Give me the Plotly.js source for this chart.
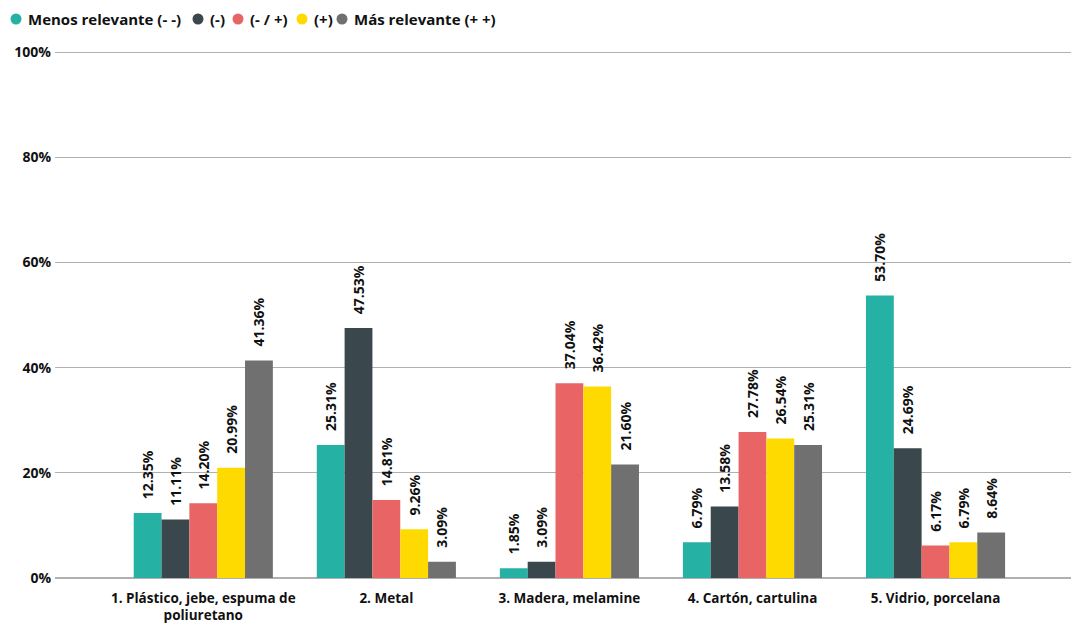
<!DOCTYPE html>
<html><head><meta charset="utf-8">
<script src="https://cdn.plot.ly/plotly-3.0.1.min.js"></script>
<style>html,body{margin:0;padding:0;background:#fff}#chart{width:1071px;height:624px}</style>
</head><body><div id="chart"></div>
<script>
const categories = ["1. Plástico, jebe, espuma de<br>poliuretano", "2. Metal", "3. Madera, melamine", "4. Cartón, cartulina", "5. Vidrio, porcelana"];
const seriesNames = ["Menos relevante (- -)", "(-)", "(- / +)", "(+)", "Más relevante (+ +)"];
const menosRelevante = [12.35, 25.31, 1.85, 6.79, 53.70];
const menos = [11.11, 47.53, 3.09, 13.58, 24.69];
const neutro = [14.20, 14.81, 37.04, 27.78, 6.17];
const mas = [20.99, 9.26, 36.42, 26.54, 6.79];
const masRelevante = [41.36, 3.09, 21.60, 25.31, 8.64];
const yTickVals = [0, 20, 40, 60, 80, 100];
const yTickText = ["0%", "20%", "40%", "60%", "80%", "100%"];
const colors = ["#26B1A5", "#3A474C", "#E86465", "#FFDA00", "#707070"];
const allSeries = [menosRelevante, menos, neutro, mas, masRelevante];
const FONT = "Open Sans, sans-serif";
const PAD = "\u00a0\u00a0\u00a0";

const traces = [];
allSeries.forEach((vals, i) => {
  traces.push({
    type: 'bar', x: categories, y: vals, name: seriesNames[i],
    marker: {color: colors[i]}, showlegend: false,
    text: vals.map(v => PAD + v.toFixed(2) + '%'), textposition: 'outside',
    textangle: -90, cliponaxis: false, constraintext: 'none',
    textfont: {family: FONT, size: 14, color: '#111', weight: 700},
    hoverinfo: 'none'
  });
});

// Legend drawn as circles + labels at the top-left
const legendX = [16, 198, 238, 302, 342];
const W = 1071, L = 55, R = 0, T = 49, PW = W - L - R;
const LY = 19;
const shapes = [], annotations = [];
legendX.forEach((px, i) => {
  const cx = (px - L) / PW;
  shapes.push({type: 'circle', xref: 'paper', yref: 'paper', xsizemode: 'pixel', ysizemode: 'pixel',
    xanchor: cx, yanchor: 1, x0: -5.5, x1: 5.5, y0: T - LY - 5.5, y1: T - LY + 5.5,
    fillcolor: colors[i], line: {width: 0}});
  annotations.push({xref: 'paper', yref: 'paper', x: (px + 10 - L) / PW, y: 1, yshift: T - LY,
    xanchor: 'left', yanchor: 'middle', showarrow: false, text: seriesNames[i],
    font: {family: FONT, size: 15, color: '#111', weight: 700}});
});

const layout = {
  width: 1071, height: 624,
  margin: {l: L, r: R, t: T, b: 46},
  paper_bgcolor: '#fff', plot_bgcolor: '#fff',
  barmode: 'group', bargap: 0.24, bargroupgap: 0,
  font: {family: FONT, size: 13, color: '#111', weight: 700},
  showlegend: false, shapes: shapes, annotations: annotations,
  xaxis: {type: 'category', range: [-0.81, 4.74], showgrid: false, zeroline: false,
    showline: false, ticks: '', ticklabelstandoff: 10,
    tickfont: {family: FONT, size: 13.5, color: '#111', weight: 700}},
  yaxis: {range: [0, 100.6], tickmode: 'array', tickvals: yTickVals, ticktext: yTickText,
    showgrid: true, gridcolor: '#b0b0b0',
    gridwidth: 1.3, zeroline: true, zerolinecolor: '#b0b0b0', zerolinewidth: 1.3, showline: false,
    ticks: '', ticklabelstandoff: 3,
    tickfont: {family: FONT, size: 14, color: '#111', weight: 700}, automargin: false}
};
Plotly.newPlot('chart', traces, layout, {displayModeBar: false, staticPlot: true});
</script></body></html>
